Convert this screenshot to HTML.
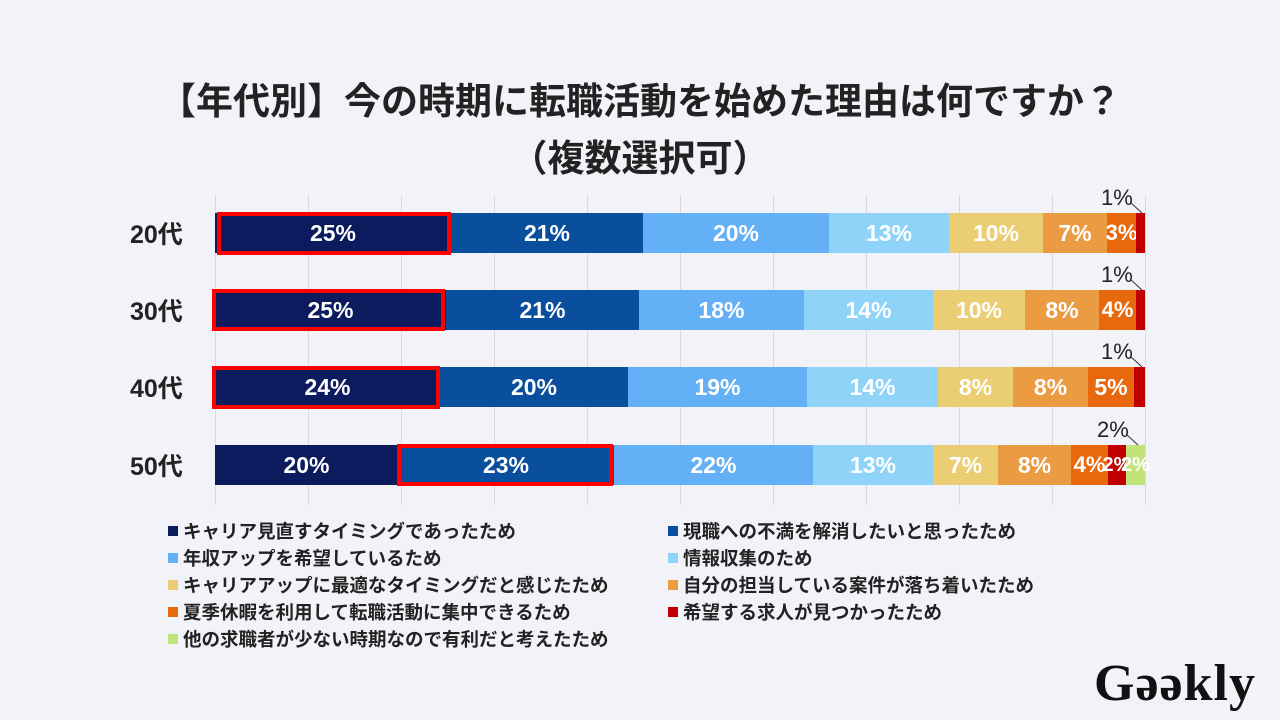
<!DOCTYPE html>
<html><head><meta charset="utf-8"><style>
body{margin:0;width:1280px;height:720px;background:#f2f3f8;font-family:"Liberation Sans","Noto Sans CJK JP",sans-serif;position:relative;overflow:hidden}
.a{position:absolute}
.t{left:0;width:1280px;text-align:center;font-weight:bold;font-size:37px;color:#222}
.g{width:1px;background:#d9d9d9;top:195px;height:310px}
.s{height:40px;color:#fff;font-weight:bold;font-size:23px;display:flex;align-items:center;justify-content:center;overflow:visible;white-space:nowrap}
.yl{left:130px;font-size:25px;font-weight:bold;color:#222;width:70px}
.box{border:4px solid #ff0000;box-sizing:border-box}
.lg{font-size:18.5px;font-weight:bold;color:#222;white-space:nowrap}
.m{width:10px;height:10px}
.sm{font-size:22px;color:#222}
</style></head><body>
<div class="a t" style="top:71px">【年代別】今の時期に転職活動を始めた理由は何ですか？</div>
<div class="a t" style="top:128px">（複数選択可）</div>
<div id="bars"></div>
<div id="leg"></div>
<div class="a" style="left:1094px;top:654px;font-family:'Liberation Serif',serif;font-weight:bold;font-size:52px;color:#111;letter-spacing:1px">Gəəkly</div>
<script>
let h='';
for(let i=0;i<=10;i++)h+=`<div class="a g" style="left:${215+93*i}px"></div>`;
const C=['#0c1a5e','#0a4f9e','#64b0f6','#8fd4f8','#ebcd73','#eb9b42','#e8680e','#c00000','#c0e47a'];
const rows=[
[213,'20代',[215,451,643,829,949,1043,1107,1136,1145],['25%','21%','20%','13%','10%','7%','3%',''],[217,451,212,255]],
[290,'30代',[215,446,639,804,933,1025,1099,1136,1145],['25%','21%','18%','14%','10%','8%','4%',''],[212,445,289,331]],
[367,'40代',[215,440,628,807,938,1013,1088,1134,1145],['24%','20%','19%','14%','8%','8%','5%',''],[212,440,366,409]],
[445,'50代',[215,398,614,813,933,998,1071,1108,1126,1145],['20%','23%','22%','13%','7%','8%','4%','2%','2%'],[397,613,444,486]]];
rows.forEach(r=>{
 const [y,l,b,v,bx]=r;
 h+=`<div class="a yl" style="top:${y+2}px">${l}</div>`;
 for(let i=0;i<b.length-1;i++){const w=b[i+1]-b[i];const fs=w<25?20:(w<40?22:23);
 h+=`<div class="a s" style="left:${b[i]}px;top:${y}px;width:${w}px;background:${C[i]};font-size:${fs}px">${v[i]||''}</div>`;}
 h+=`<div class="a box" style="left:${bx[0]}px;top:${bx[2]}px;width:${bx[1]-bx[0]}px;height:${bx[3]-bx[2]}px"></div>`;
 const lab=l=='50代'?'2%':'1%';
 h+=`<div class="a sm" style="left:${l=='50代'?1097:1101}px;top:${y-28}px">${lab}</div>`;
 h+=`<svg class="a" style="left:1120px;top:${y-12}px" width="30" height="14"><line x1="${l=='50代'?6:10}" y1="1" x2="${l=='50代'?18:22}" y2="12" stroke="#333" stroke-width="1"/></svg>`;
});
document.getElementById('bars').innerHTML=h;
const L=[['キャリア見直すタイミングであったため','現職への不満を解消したいと思ったため'],['年収アップを希望しているため','情報収集のため'],['キャリアアップに最適なタイミングだと感じたため','自分の担当している案件が落ち着いたため'],['夏季休暇を利用して転職活動に集中できるため','希望する求人が見つかったため'],['他の求職者が少ない時期なので有利だと考えたため']];
let g='';L.forEach((r,i)=>r.forEach((t,j)=>{const k=i*2+j,y=518+27*i,x=j?668:168;
g+=`<div class="a m" style="left:${x}px;top:${y+8}px;background:${C[k]}"></div><div class="a lg" style="left:${x+15}px;top:${y}px">${t}</div>`;}));
document.getElementById('leg').innerHTML=g;
</script>
</body></html>
